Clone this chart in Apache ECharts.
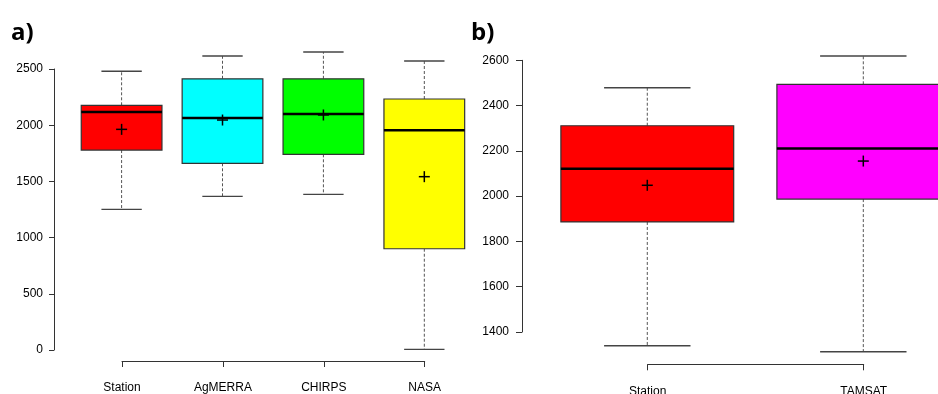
<!DOCTYPE html>
<html>
<head>
<meta charset="utf-8">
<script src="https://cdn.jsdelivr.net/npm/echarts@6/dist/echarts.min.js"></script>
<style>html,body{margin:0;padding:0;background:#fff}#c{width:938px;height:394px}</style>
</head>
<body>
<div id="c"></div>
<script>
// Panel a)
const catsA = ['Station', 'AgMERRA', 'CHIRPS', 'NASA'];
const minA  = [1251, 1367, 1385, 6];
const q1A   = [1779, 1661, 1741, 901];
const medA  = [2117, 2064, 2100, 1955];
const q3A   = [2177, 2413, 2413, 2233];
const maxA  = [2480, 2615, 2651, 2571];
const meanA = [1963, 2046, 2091, 1542];
const ticksA = [0, 500, 1000, 1500, 2000, 2500];

// Panel b)
const catsB = ['Station', 'TAMSAT'];
const minB  = [1339, 1313];
const q1B   = [1886, 1987];
const medB  = [2121, 2211];
const q3B   = [2311, 2494];
const maxB  = [2479, 2619];
const meanB = [2048, 2155];
const ticksB = [1400, 1600, 1800, 2000, 2200, 2400, 2600];

const colorsA = ['#FF0000', '#00FFFF', '#00FF00', '#FFFF00'];
const colorsB = ['#FF0000', '#FF00FF'];

function rows(mn, q1, md, q3, mx, mean) {
  return mn.map((v, i) => [i, mn[i], q1[i], md[i], q3[i], mx[i], mean[i]]);
}

function boxRender(colors) {
  return function (params, api) {
    const i = api.value(0);
    const pMin = api.coord([i, api.value(1)]);
    const pQ1 = api.coord([i, api.value(2)]);
    const pMed = api.coord([i, api.value(3)]);
    const pQ3 = api.coord([i, api.value(4)]);
    const pMax = api.coord([i, api.value(5)]);
    const pMean = api.coord([i, api.value(6)]);
    const bw = api.size([1, 0])[0] * 0.8;
    const cw = bw * 0.5;
    const x = pMed[0];
    const dash = { stroke: '#555', lineWidth: 1, lineDash: [3, 2] };
    const cap = { stroke: '#444', lineWidth: 1.4 };
    return {
      type: 'group',
      children: [
        { type: 'line', shape: { x1: x, y1: pQ3[1], x2: x, y2: pMax[1] }, style: dash },
        { type: 'line', shape: { x1: x, y1: pQ1[1], x2: x, y2: pMin[1] }, style: dash },
        { type: 'line', shape: { x1: x - cw / 2, y1: pMax[1], x2: x + cw / 2, y2: pMax[1] }, style: cap },
        { type: 'line', shape: { x1: x - cw / 2, y1: pMin[1], x2: x + cw / 2, y2: pMin[1] }, style: cap },
        { type: 'rect', shape: { x: x - bw / 2, y: pQ3[1], width: bw, height: pQ1[1] - pQ3[1] },
          style: { fill: colors[i], stroke: '#333', lineWidth: 1.2 } },
        { type: 'line', shape: { x1: x - bw / 2, y1: pMed[1], x2: x + bw / 2, y2: pMed[1] },
          style: { stroke: '#000', lineWidth: 2.5 } },
        { type: 'line', shape: { x1: x - 5.5, y1: pMean[1], x2: x + 5.5, y2: pMean[1] },
          style: { stroke: '#000', lineWidth: 1.5 } },
        { type: 'line', shape: { x1: x, y1: pMean[1] - 5.5, x2: x, y2: pMean[1] + 5.5 },
          style: { stroke: '#000', lineWidth: 1.5 } }
      ]
    };
  };
}

const labelFont = { fontFamily: 'Liberation Sans', fontSize: 12, color: '#000' };
const axisCol = '#333';
const plain = v => String(v);
const panelTitle = { fontFamily: 'Open Sans', fontWeight: 'bold', fontSize: 24, color: '#000' };

const chart = echarts.init(document.getElementById('c'));
chart.setOption({
  animation: false,
  backgroundColor: '#fff',
  title: [
    { text: 'a)', left: 11, top: 21, padding: 0, textStyle: panelTitle },
    { text: 'b)', left: 471, top: 21, padding: 0, textStyle: panelTitle }
  ],
  grid: [
    { left: 54, top: 69, width: 435.9, height: 281, outerBoundsMode: 'none', containLabel: false },
    { left: 122, top: 300, width: 302.7, height: 61, outerBoundsMode: 'none', containLabel: false },
    { left: 522, top: 60.3, width: 466.6, height: 271.7, outerBoundsMode: 'none', containLabel: false },
    { left: 647.7, top: 300, width: 216, height: 64.3, outerBoundsMode: 'none', containLabel: false }
  ],
  xAxis: [
    { gridIndex: 0, type: 'value', min: -0.67, max: 3.65, show: false },
    { gridIndex: 1, type: 'category', data: catsA, boundaryGap: false,
      axisLine: { onZero: false, lineStyle: { color: axisCol, width: 1 } },
      axisTick: { length: 6, lineStyle: { color: axisCol } },
      axisLabel: Object.assign({ margin: 21, interval: 0 }, labelFont) },
    { gridIndex: 2, type: 'value', min: -0.58, max: 1.58, show: false },
    { gridIndex: 3, type: 'category', data: catsB, boundaryGap: false,
      axisLine: { onZero: false, lineStyle: { color: axisCol, width: 1 } },
      axisTick: { length: 6, lineStyle: { color: axisCol } },
      axisLabel: Object.assign({ margin: 21, interval: 0 }, labelFont) }
  ],
  yAxis: [
    { gridIndex: 0, type: 'value', min: ticksA[0], max: ticksA[ticksA.length - 1], interval: 500,
      splitLine: { show: false },
      axisLine: { show: true, onZero: false, lineStyle: { color: axisCol, width: 1 } },
      axisTick: { show: true, length: 5, lineStyle: { color: axisCol } },
      axisLabel: Object.assign({ margin: 11, formatter: plain }, labelFont) },
    { gridIndex: 1, type: 'value', show: false },
    { gridIndex: 2, type: 'value', min: ticksB[0], max: ticksB[ticksB.length - 1], interval: 200,
      splitLine: { show: false },
      axisLine: { show: true, onZero: false, lineStyle: { color: axisCol, width: 1 } },
      axisTick: { show: true, length: 6, lineStyle: { color: axisCol } },
      axisLabel: Object.assign({ margin: 13, formatter: plain }, labelFont) },
    { gridIndex: 3, type: 'value', show: false }
  ],
  series: [
    { type: 'custom', xAxisIndex: 0, yAxisIndex: 0, clip: false,
      renderItem: boxRender(colorsA),
      data: rows(minA, q1A, medA, q3A, maxA, meanA) },
    { type: 'custom', xAxisIndex: 2, yAxisIndex: 2, clip: false,
      renderItem: boxRender(colorsB),
      data: rows(minB, q1B, medB, q3B, maxB, meanB) }
  ]
});
</script>
</body>
</html>
